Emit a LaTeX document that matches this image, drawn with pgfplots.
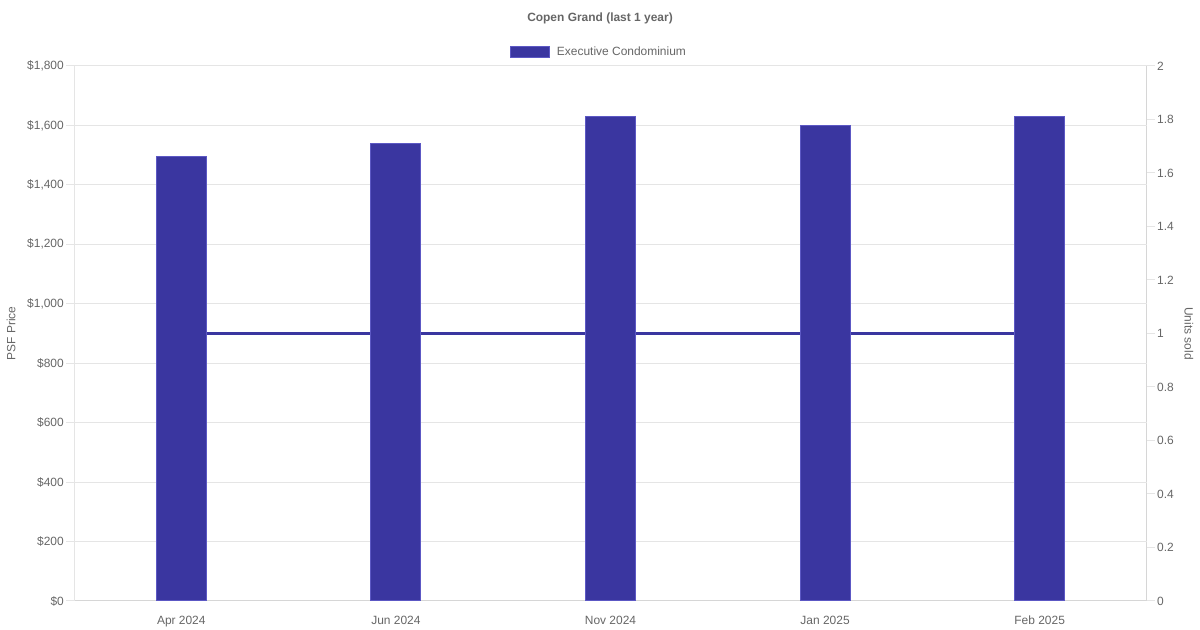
\documentclass[border=0pt]{standalone}
\usepackage{fontspec}
\setmainfont{Liberation Sans}
\usepackage{pgfplots}
\pgfplotsset{compat=1.18}
\definecolor{barfill}{RGB}{58,54,160}
\definecolor{baredge}{RGB}{92,88,196}
\definecolor{txt}{RGB}{102,102,102}
\definecolor{gridc}{RGB}{229,229,229}
\definecolor{axc}{RGB}{214,214,214}
\begin{document}
\begin{tikzpicture}[x=1bp,y=1bp]
\path[use as bounding box] (0,0) rectangle (1200,630);
% right axis: units sold (drawn first so bars cover it)
\begin{axis}[
  at={(74bp,29bp)}, anchor=south west,
  scale only axis, width=1073bp, height=535bp,
  xmin=-0.5, xmax=4.5, ymin=0, ymax=2,
  axis x line=none, axis y line*=right,
  ytick={0,0.2,0.4,0.6,0.8,1,1.2,1.4,1.6,1.8,2},
  tick align=outside, major tick length=8bp,
  y axis line style={draw=axc, line width=1bp},
  ytick style={draw=gridc, line width=1bp},
  yticklabel style={font=\fontsize{12}{14}\selectfont, text=txt, anchor=west, inner sep=0pt, xshift=2bp},
  /pgf/number format/assume math mode=true,
  ylabel={Units sold},
  ylabel style={at={(rel axis cs:1,0.5)}, anchor=center, rotate=180, yshift=42bp, font=\fontsize{12}{14}\selectfont, text=txt, inner sep=0pt},
  clip=false,
]
\addplot[barfill, line width=3bp, mark=none] coordinates {(0,1) (1,1) (2,1) (3,1) (4,1)};
\end{axis}
% left axis: PSF price bars
\begin{axis}[
  at={(74bp,29bp)}, anchor=south west,
  scale only axis, width=1073bp, height=535bp,
  xmin=-0.5, xmax=4.5, ymin=0, ymax=1800,
  axis x line*=bottom, axis y line*=left,
  xtick={0,1,2,3,4},
  xticklabels={Apr 2024,Jun 2024,Nov 2024,Jan 2025,Feb 2025},
  xtick style={draw=none},
  xticklabel style={font=\fontsize{12}{14}\selectfont, text=txt, anchor=north, inner sep=0pt, yshift=-7bp},
  ytick={0,200,400,600,800,1000,1200,1400,1600,1800},
  yticklabel={\$\pgfmathprintnumber{\tick}},
  /pgf/number format/.cd, 1000 sep={,}, assume math mode=true, /pgfplots/.cd,
  tick align=outside, major tick length=8bp,
  ytick style={draw=gridc, line width=1bp},
  yticklabel style={font=\fontsize{12}{14}\selectfont, text=txt, anchor=east, inner sep=0pt, xshift=-2bp},
  ymajorgrids, major grid style={draw=gridc, line width=1bp},
  x axis line style={draw=axc, line width=1bp},
  y axis line style={draw=gridc, line width=1bp},
  ylabel={PSF Price},
  ylabel style={at={(rel axis cs:0,0.5)}, anchor=center, rotate=0, yshift=63bp, font=\fontsize{12}{14}\selectfont, text=txt, inner sep=0pt},
  legend style={draw=none, fill=none, inner sep=0pt, outer sep=0pt,
    at={(rel axis cs:0.40634,1.0262)}, anchor=west,
    font=\fontsize{12}{14}\selectfont, text=txt,
    nodes={inner sep=0pt}},
  ybar, bar width=50bp,
]
\addplot[fill=barfill, draw=baredge, line width=1bp,
  legend image code/.code={
    \path[draw=none, fill=none] (0bp,0bp) -- (47bp,0bp);
    \draw[fill=barfill, draw=baredge, line width=1bp] (0.5bp,-5.5bp) rectangle (39.5bp,5.5bp);
  }] coordinates {(0,1497) (1,1538) (2,1631) (3,1601) (4,1629)};
\addlegendentry{Executive Condominium}
\end{axis}
\node[font=\bfseries\fontsize{12}{14}\selectfont, text=txt] at (600,612) {Copen Grand (last 1 year)};
\end{tikzpicture}
\end{document}
